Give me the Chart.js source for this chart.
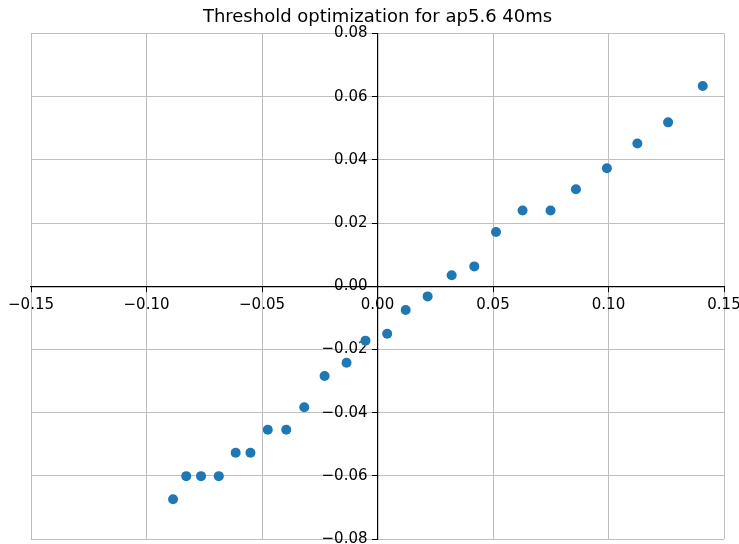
<!DOCTYPE html>
<html>
  <head>
    <meta charset="UTF-8" />
    <title>Threshold optimization</title>
    <style>
      html,
      body {
        margin: 0;
        padding: 0;
        width: 100%;
        height: 100%;
        background: #fff;
      }
      .chart-container {
        width: 739px;
        height: 544px;
        position: relative;
      }
    </style>
    <script src="https://cdn.jsdelivr.net/npm/chart.js"></script>
  </head>
  <body>
    <div class="chart-container">
      <canvas id="chart"></canvas>
    </div>
    <script>
      // data
      const xValues = [
        -0.0885, -0.0828, -0.0764, -0.0687, -0.0614, -0.055, -0.0475, -0.0395,
        -0.0317, -0.0229, -0.0134, -0.0052, 0.0042, 0.0122, 0.0217, 0.0321,
        0.0419, 0.0513, 0.0628, 0.0749, 0.0859, 0.0993, 0.1125, 0.1258, 0.1408,
      ];
      const yValues = [
        -0.0674, -0.0601, -0.0601, -0.0601, -0.0527, -0.0527, -0.0454, -0.0454,
        -0.0383, -0.0284, -0.0242, -0.0172, -0.015, -0.0075, -0.0032, 0.0035,
        0.0063, 0.0172, 0.024, 0.024, 0.0307, 0.0374, 0.0452, 0.0519, 0.0634,
      ];
      const xTicks = [-0.15, -0.1, -0.05, 0, 0.05, 0.1, 0.15];
      const yTicks = [-0.08, -0.06, -0.04, -0.02, 0, 0.02, 0.04, 0.06, 0.08];

      const fontFamily = "'DejaVu Sans', sans-serif";

      const fmt = (v) => {
        if (Math.abs(v) < 1e-9) return "0.00";
        return (v < 0 ? "\u2212" : "") + Math.abs(v).toFixed(2);
      };

      // matplotlib style: no end padding from the centered axes
      const noPad = (scale) => {
        scale.paddingLeft = 0;
        scale.paddingRight = 0;
        scale.paddingTop = 0;
        scale.paddingBottom = 0;
      };

      const points = xValues.map((x, i) => ({ x: x, y: yValues[i] }));

      // axis ranges are symmetric, so 'center' puts the spines at zero
      new Chart(document.getElementById("chart"), {
        type: "scatter",
        data: {
          datasets: [
            {
              data: points,
              backgroundColor: "#1f77b4",
              borderWidth: 0,
              pointRadius: 5,
              pointHoverRadius: 5,
            },
          ],
        },
        options: {
          responsive: true,
          maintainAspectRatio: false,
          animation: false,
          devicePixelRatio: 1,
          layout: { padding: { left: 31, right: 15, top: 0, bottom: 5 } },
          plugins: {
            legend: { display: false },
            tooltip: { enabled: false },
            title: {
              display: true,
              text: "Threshold optimization for ap5.6 40ms",
              color: "#000",
              font: { family: fontFamily, size: 18, weight: "normal" },
              padding: { top: 7, bottom: 5 },
            },
          },
          scales: {
            x: {
              type: "linear",
              position: "center",
              min: -0.15,
              max: 0.15,
              afterFit: noPad,
              afterBuildTicks: (scale) => {
                scale.ticks = xTicks.map((v) => ({ value: v }));
              },
              ticks: {
                color: "#000",
                font: { family: fontFamily, size: 15 },
                padding: 5,
                maxRotation: 0,
                autoSkip: false,
                callback: fmt,
              },
              grid: {
                color: "#bdbdbd",
                lineWidth: 1,
                tickColor: "#000",
                tickLength: 5,
              },
              border: { color: "#000", width: 1.2 },
            },
            y: {
              type: "linear",
              position: "center",
              min: -0.08,
              max: 0.08,
              afterFit: noPad,
              afterBuildTicks: (scale) => {
                scale.ticks = yTicks.map((v) => ({ value: v }));
              },
              ticks: {
                color: "#000",
                font: { family: fontFamily, size: 15 },
                padding: 5,
                autoSkip: false,
                callback: fmt,
              },
              grid: {
                color: "#bdbdbd",
                lineWidth: 1,
                tickColor: "#000",
                tickLength: 5,
              },
              border: { color: "#000", width: 1.2 },
            },
          },
        },
      });
    </script>
  </body>
</html>
